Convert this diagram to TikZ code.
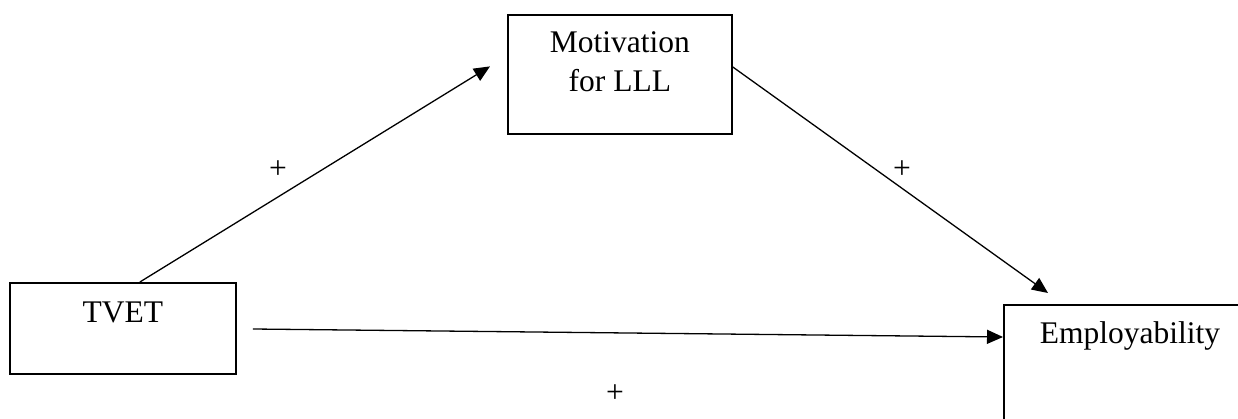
\documentclass[tikz,border=0pt]{standalone}
\usepackage{fontspec}
\setmainfont{Liberation Serif}
\usetikzlibrary{arrows.meta}
\begin{document}
\begin{tikzpicture}[x=1pt,y=-1pt,
  box/.style={draw,line width=1.8pt,inner sep=0pt,anchor=north west},
  lbl/.style={font=\fontsize{31.5}{39}\selectfont,inner sep=0pt,anchor=base,align=center},
  conn/.style={line width=1.3pt,-{Triangle[length=16pt,width=14pt]}},
  sign/.style={font=\fontsize{31.5}{39}\selectfont,inner sep=0pt,anchor=base}]
\useasboundingbox (0,0) rectangle (1238,419);
\begin{scope}
\clip (0,0) rectangle (1238,419);
\node[box,minimum width=226pt,minimum height=91pt] (tvet) at (9,282) {};
\node[box,minimum width=224pt,minimum height=119pt] (mot) at (507,14) {};
\node[box,minimum width=254pt,minimum height=125pt] (emp) at (1003,304) {};
\end{scope}
\node[lbl] (tvettext) at ([yshift=-40pt]tvet.north) {TVET};
\node[lbl] (mottext) at ([yshift=-78pt]mot.north) {Motivation\\for LLL};
\node[lbl] (emptext) at ([xshift=127pt,yshift=-39pt]emp.north west) {Employability};
\coordinate (a1s) at ([xshift=17pt]tvet.north);
\coordinate (a1e) at ([xshift=-17pt,yshift=8pt]mot.west);
\coordinate (a2s) at ([yshift=-53pt]mot.north east);
\coordinate (a2e) at ([xshift=45pt,yshift=11pt]emp.north west);
\coordinate (a3s) at ([xshift=16pt,yshift=-47pt]tvet.north east);
\coordinate (a3e) at ([yshift=-33pt]emp.north west);
\draw[conn] (a1s) -- (a1e);
\draw[conn] (a2s) -- (a2e);
\draw[conn] (a3s) -- (a3e);
\node[sign] (p1) at (278,179) {+};
\node[sign] (p2) at (902,179) {+};
\node[sign] (p3) at (615,402) {+};
\end{tikzpicture}
\end{document}
